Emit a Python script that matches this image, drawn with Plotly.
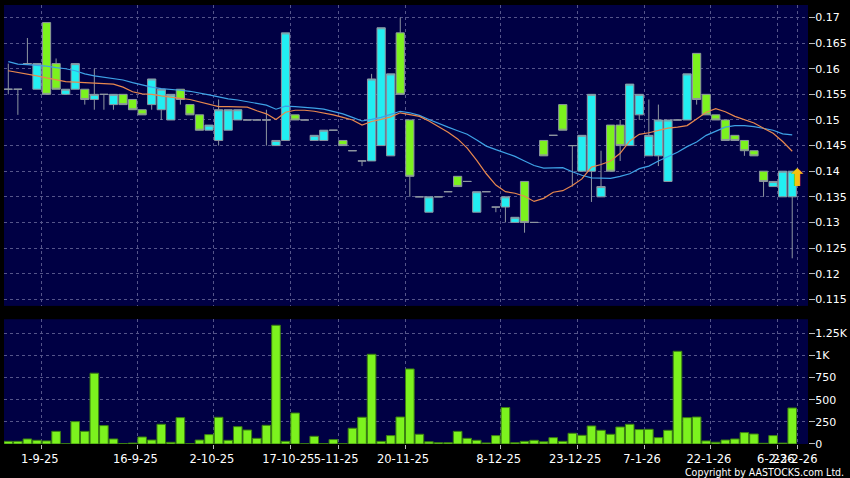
import plotly.graph_objects as go

# ---------------- data ----------------
open_ = [0.156, 0.156, 0.161, 0.156, 0.169, 0.161, 0.155, 0.156, 0.156, 0.154,
         0.155, 0.153, 0.155, 0.154, 0.152, 0.153, 0.152, 0.150, 0.156, 0.153,
         0.151, 0.148, 0.146, 0.148, 0.150, 0.150, 0.150, 0.150, 0.145, 0.146,
         0.151, 0.150, 0.146, 0.146, 0.148, 0.146, 0.144, 0.142, 0.142, 0.145,
         0.143, 0.167, 0.150, 0.135, 0.132, 0.135, 0.136, 0.139, 0.138, 0.132,
         0.136, 0.133, 0.133, 0.130, 0.138, 0.130, 0.146, 0.147, 0.153, 0.145,
         0.140, 0.140, 0.135, 0.149, 0.149, 0.145, 0.151, 0.143, 0.143, 0.138,
         0.150, 0.150, 0.163, 0.155, 0.151, 0.150, 0.147, 0.146, 0.144, 0.140,
         0.137, 0.135, 0.135]
high = [0.161, 0.156, 0.166, 0.161, 0.169, 0.162, 0.156, 0.161, 0.156, 0.160,
        0.155, 0.155, 0.155, 0.154, 0.152, 0.158, 0.156, 0.155, 0.156, 0.153,
        0.151, 0.149, 0.154, 0.152, 0.152, 0.150, 0.150, 0.152, 0.146, 0.167,
        0.151, 0.150, 0.147, 0.148, 0.148, 0.146, 0.144, 0.142, 0.159, 0.168,
        0.159, 0.170, 0.150, 0.135, 0.135, 0.135, 0.136, 0.139, 0.138, 0.136,
        0.136, 0.133, 0.135, 0.131, 0.138, 0.130, 0.146, 0.147, 0.153, 0.145,
        0.147, 0.155, 0.144, 0.149, 0.150, 0.157, 0.155, 0.154, 0.153, 0.150,
        0.150, 0.159, 0.163, 0.155, 0.151, 0.150, 0.147, 0.146, 0.144, 0.140,
        0.138, 0.140, 0.140]
low = [0.155, 0.151, 0.161, 0.156, 0.155, 0.156, 0.155, 0.156, 0.153, 0.152,
       0.152, 0.152, 0.153, 0.152, 0.151, 0.152, 0.150, 0.150, 0.153, 0.151,
       0.148, 0.148, 0.145, 0.148, 0.150, 0.150, 0.150, 0.145, 0.145, 0.146,
       0.150, 0.150, 0.146, 0.146, 0.148, 0.145, 0.144, 0.141, 0.142, 0.145,
       0.143, 0.155, 0.135, 0.135, 0.132, 0.135, 0.136, 0.137, 0.138, 0.132,
       0.136, 0.132, 0.130, 0.130, 0.128, 0.130, 0.143, 0.147, 0.148, 0.137,
       0.140, 0.134, 0.135, 0.140, 0.142, 0.145, 0.150, 0.143, 0.141, 0.138,
       0.150, 0.150, 0.153, 0.151, 0.150, 0.146, 0.146, 0.143, 0.143, 0.135,
       0.137, 0.135, 0.123]
close = [0.156, 0.156, 0.161, 0.161, 0.155, 0.156, 0.156, 0.161, 0.154, 0.155,
         0.155, 0.155, 0.153, 0.152, 0.151, 0.158, 0.156, 0.155, 0.154, 0.151,
         0.148, 0.149, 0.152, 0.152, 0.152, 0.150, 0.150, 0.150, 0.146, 0.167,
         0.150, 0.150, 0.147, 0.148, 0.148, 0.145, 0.144, 0.142, 0.158, 0.168,
         0.159, 0.155, 0.139, 0.135, 0.135, 0.135, 0.136, 0.137, 0.138, 0.136,
         0.136, 0.133, 0.135, 0.131, 0.130, 0.130, 0.143, 0.147, 0.148, 0.145,
         0.147, 0.155, 0.137, 0.140, 0.145, 0.157, 0.155, 0.147, 0.150, 0.150,
         0.150, 0.159, 0.154, 0.151, 0.150, 0.146, 0.146, 0.144, 0.143, 0.138,
         0.138, 0.140, 0.140]
volume = [30, 30, 57, 42, 35, 143, 3, 253, 143, 800,
          208, 57, 5, 10, 79, 45, 223, 19, 298, 3,
          45, 106, 302, 42, 196, 158, 64, 211, 1342, 30,
          350, 3, 87, 5, 50, 3, 178, 302, 1014, 30,
          95, 305, 848, 110, 25, 15, 15, 143, 64, 42,
          12, 95, 412, 15, 30, 42, 25, 72, 30, 121,
          98, 204, 155, 110, 192, 223, 163, 166, 72, 155,
          1048, 298, 305, 35, 20, 45, 57, 129, 113, 8,
          95, 10, 407]
ma_short = [0.1596, 0.1593, 0.1590, 0.1586, 0.1582, 0.1578, 0.1575, 0.1574, 0.1573, 0.1573,
            0.1572, 0.1570, 0.1564, 0.1555, 0.1551, 0.1550, 0.1547, 0.1544, 0.1542, 0.1540,
            0.1535, 0.1530, 0.1526, 0.1526, 0.1526, 0.1525, 0.1518, 0.1512, 0.1501, 0.1515,
            0.1519, 0.1519, 0.1517, 0.1514, 0.1510, 0.1505, 0.1500, 0.1490, 0.1497, 0.1501,
            0.1506, 0.1514, 0.1510, 0.1507, 0.1498, 0.1487, 0.1476, 0.1463, 0.1445, 0.1421,
            0.1395, 0.1373, 0.1360, 0.1357, 0.1351, 0.1341, 0.1347, 0.1359, 0.1362, 0.1372,
            0.1385, 0.1408, 0.1413, 0.1420, 0.1435, 0.1459, 0.1472, 0.1475, 0.1479, 0.1484,
            0.1486, 0.1489, 0.1502, 0.1515, 0.1522, 0.1516, 0.1507, 0.1501, 0.1494, 0.1484,
            0.1474, 0.1458, 0.1439]
ma_long = [0.1614, 0.1609, 0.1608, 0.1607, 0.1605, 0.1602, 0.1600, 0.1596, 0.1590, 0.1586,
           0.1583, 0.1581, 0.1578, 0.1573, 0.1568, 0.1564, 0.1561, 0.1560, 0.1558, 0.1556,
           0.1553, 0.1549, 0.1545, 0.1541, 0.1539, 0.1536, 0.1532, 0.1529, 0.1521, 0.1527,
           0.1526, 0.1525, 0.1523, 0.1521, 0.1517, 0.1512, 0.1505, 0.1498, 0.1501, 0.1505,
           0.1511, 0.1517, 0.1514, 0.1509, 0.1501, 0.1493, 0.1486, 0.1479, 0.1472, 0.1461,
           0.1449, 0.1442, 0.1436, 0.1429, 0.1420, 0.1411, 0.1406, 0.1406, 0.1407, 0.1399,
           0.1392, 0.1387, 0.1386, 0.1386, 0.1390, 0.1395, 0.1405, 0.1410, 0.1420, 0.1428,
           0.1437, 0.1448, 0.1457, 0.1470, 0.1478, 0.1486, 0.1489, 0.1489, 0.1487, 0.1484,
           0.1480, 0.1473, 0.1471]
date_tick_index = [3, 13, 21, 29, 34, 41, 51, 59, 66, 73, 80, 82]
date_tick_labels = ["1-9-25", "16-9-25", "2-10-25", "17-10-25", "5-11-25", "20-11-25",
                    "8-12-25", "23-12-25", "7-1-26", "22-1-26", "6-2-26", "23-2-26"]
price_ticks = [0.115, 0.12, 0.125, 0.13, 0.135, 0.14, 0.145, 0.15, 0.155, 0.16, 0.165, 0.17]
price_tick_labels = ["0.115", "0.12", "0.125", "0.13", "0.135", "0.14", "0.145",
                     "0.15", "0.155", "0.16", "0.165", "0.17"]
vol_ticks = [0, 250, 500, 750, 1000, 1250]
vol_tick_labels = ["0", "250", "500", "750", "1K", "1.25K"]

# ---------------- styling ----------------
CYAN = "#22eef2"
GREEN = "#7cf21e"
EDGE = "#8e96a0"
BLUE = "#3ea2e6"
ORANGE = "#e8884e"
NAVY = "#000044"
GRID = "#55558a"
FONT = "DejaVu Sans"

n = len(close)
x = list(range(n))
grid_pos = [i + 0.5 for i in date_tick_index]
x_range = [-0.45, n + 0.65]

fig = go.Figure()
fig.add_trace(go.Candlestick(
    x=x, open=open_, high=high, low=low, close=close,
    increasing=dict(fillcolor=CYAN, line=dict(color=EDGE, width=1)),
    decreasing=dict(fillcolor=GREEN, line=dict(color=EDGE, width=1)),
    whiskerwidth=0, xaxis="x", yaxis="y", showlegend=False, hoverinfo="skip"))
fig.add_trace(go.Scatter(x=x, y=ma_long, mode="lines", line=dict(color=BLUE, width=1.2),
                         xaxis="x", yaxis="y", showlegend=False, hoverinfo="skip"))
fig.add_trace(go.Scatter(x=x, y=ma_short, mode="lines", line=dict(color=ORANGE, width=1.2),
                         xaxis="x", yaxis="y", showlegend=False, hoverinfo="skip"))
fig.add_trace(go.Bar(x=x, y=volume, marker=dict(color=GREEN, line=dict(color="#3b7f12", width=1)),
                     xaxis="x2", yaxis="y2", showlegend=False, hoverinfo="skip"))

axis_common = dict(showgrid=True, gridcolor=GRID, gridwidth=1, griddash="3px,3px",
                   zeroline=False, showline=False, automargin=False)

fig.update_layout(
    width=850, height=478,
    margin=dict(l=4, r=42, t=5, b=34.3, pad=0, autoexpand=False),
    paper_bgcolor="black", plot_bgcolor=NAVY,
    boxgap=0.14, boxgroupgap=0, bargap=0.1, showlegend=False,
    font=dict(family=FONT, size=11, color="white"),
    xaxis=dict(domain=[0, 1], range=x_range, anchor="y", tickvals=grid_pos,
               showticklabels=False, ticks="", rangeslider=dict(visible=False), **axis_common),
    xaxis2=dict(domain=[0, 1], range=x_range, anchor="y2", matches="x", tickvals=grid_pos,
                ticktext=date_tick_labels, ticks="outside", ticklen=4, tickcolor="#bbbbbb",
                tickangle=0, ticklabelshift=-2,
                tickfont=dict(size=11.5, color="white", family=FONT), **axis_common),
    yaxis=dict(domain=[0.3146, 1], range=[0.11371, 0.17244], side="right", anchor="x",
               tickvals=price_ticks, ticktext=price_tick_labels, ticks="outside", ticklen=6,
               tickcolor="#bbbbbb", ticklabelstandoff=-2,
               tickfont=dict(size=11, color="white", family=FONT), **axis_common),
    yaxis2=dict(domain=[0, 0.2842], range=[0, 1410], side="right", anchor="x2",
                tickvals=vol_ticks, ticktext=vol_tick_labels, ticks="outside", ticklen=6,
                tickcolor="#bbbbbb", ticklabelstandoff=-2,
                tickfont=dict(size=11, color="white", family=FONT), **axis_common),
)

# last-price indicator arrow
fig.add_annotation(x=n - 0.5, y=close[-1] - 0.0013, xref="x", yref="y", text="⬆",
                   showarrow=False, font=dict(size=24, color="#f5c211", family=FONT))
# copyright text
fig.add_annotation(x=1.0473, y=-0.063, xref="paper", yref="paper", xanchor="right",
                   yanchor="middle", text="Copyright by AASTOCKS.com Ltd.", showarrow=False,
                   font=dict(size=10.5, color="white", family="DejaVu Sans Condensed, DejaVu Sans"))

fig.write_html("out.html", config={"displayModeBar": False},
               post_script="document.body.style.margin='0';document.body.style.background='black';")
